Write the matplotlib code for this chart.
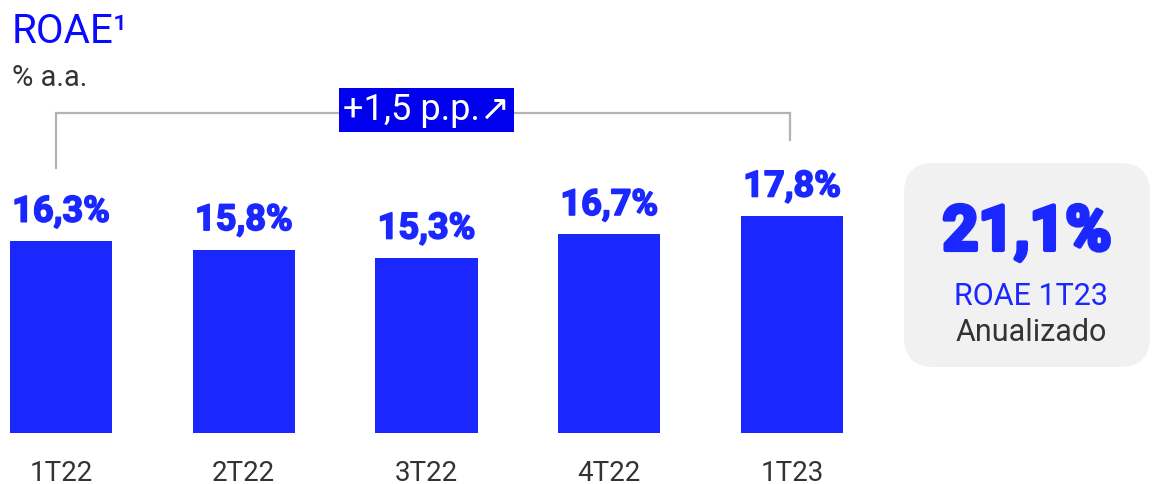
import matplotlib.pyplot as plt
import matplotlib.patheffects as pe
from matplotlib.patches import FancyBboxPatch
from matplotlib.transforms import IdentityTransform

plt.rcParams['font.family'] = ['Roboto', 'DejaVu Sans']

quarters = ['1T22', '2T22', '3T22', '4T22', '1T23']
roae = [16.3, 15.8, 15.3, 16.7, 17.8]
delta_label = '+1,5 p.p.↗'
highlight_value = '21,1%'
highlight_title = 'ROAE 1T23'
highlight_sub = 'Anualizado'

BLUE = '#1a28ff'
DARK = '#333333'
W, H = 1152, 484

fig = plt.figure(figsize=(W / 100, H / 100), dpi=100)
ax = fig.add_axes([0, 51 / H, 1, 433 / H])

x = list(range(len(quarters)))
ax.bar(x, roae, width=0.56, color=BLUE)
ax.set_xlim(-61 / 182.75, (W - 61) / 182.75)
ax.set_ylim(4.88, 4.88 + 433 / 16.8)
ax.axis('off')

def yval(ypx):
    # pixel row (from top) -> data value
    return 4.88 + (433 - ypx) / 16.8

heavy = [pe.withStroke(linewidth=1.2, foreground=BLUE)]
for xi, v in zip(x, roae):
    ax.annotate(f'{v:.1f}%'.replace('.', ','), (xi, v), xytext=(0, 14),
                textcoords='offset points', ha='center', va='baseline',
                fontsize=26, fontweight='bold', color=BLUE, path_effects=heavy)
    fig.text((61 + 182.75 * xi) / W, 1 - 481 / H, quarters[xi], ha='center',
             va='baseline', fontsize=20, color=DARK)

# bracket 1T22 -> 1T23
ax.plot([-0.03, -0.03, 3.99, 3.99], [yval(168), yval(113), yval(113), yval(140)],
        color='#b3b3b3', lw=1.6, solid_joinstyle='miter')
ax.text(2.0, yval(110), delta_label, ha='center', va='center', fontsize=26,
        color='white', bbox=dict(boxstyle='square,pad=0.1', fc='#0000ee', ec='none'))

fig.text(12 / W, 1 - 43 / H, 'ROAE¹', fontsize=29, color='#0a0aff', va='baseline')
fig.text(12 / W, 1 - 86 / H, '% a.a.', fontsize=21, color=DARK, va='baseline')

box = FancyBboxPatch((904, H - 367), 246, 204, boxstyle='round,pad=0,rounding_size=30',
                     fc='#f1f1f1', ec='none', transform=IdentityTransform())
fig.patches.append(box)
fig.text(1027 / W, 1 - 250 / H, highlight_value, ha='center', va='baseline',
         fontsize=45, fontweight='bold', color=BLUE,
         path_effects=[pe.withStroke(linewidth=3, foreground=BLUE)])
fig.text(1031 / W, 1 - 305 / H, highlight_title, ha='center', va='baseline',
         fontsize=22, color=BLUE)
fig.text(1031 / W, 1 - 341 / H, highlight_sub, ha='center', va='baseline',
         fontsize=22, color=DARK)

fig.savefig('out.png', dpi=100)
